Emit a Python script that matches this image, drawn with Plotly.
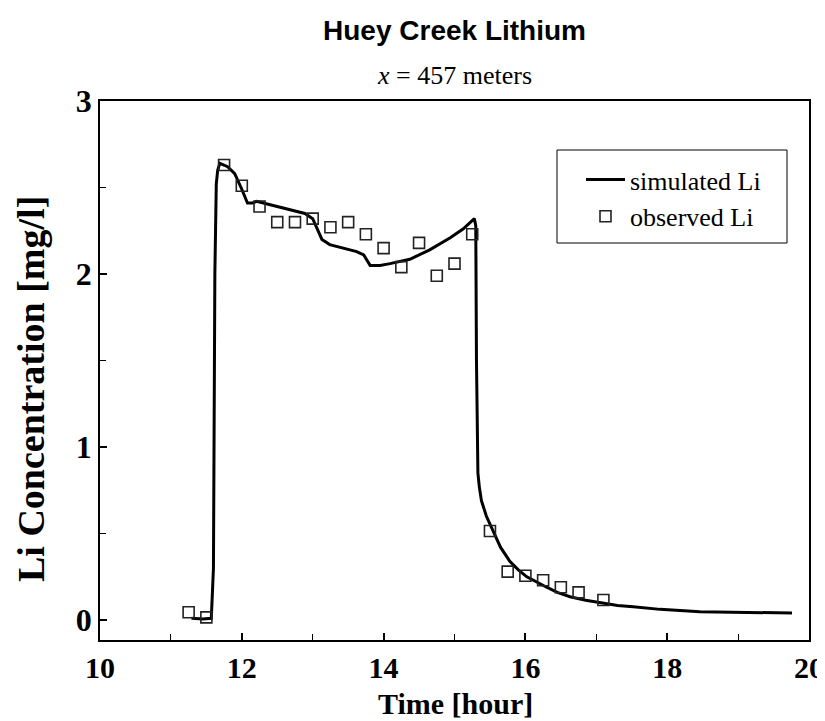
import plotly.graph_objects as go

# Simulated Li (model curve)
sim_time = [11.29, 11.45, 11.57, 11.60, 11.62, 11.64, 11.66, 11.69, 11.80, 11.90, 12.00,
            12.08, 12.15, 12.21, 12.40, 12.58, 12.89, 13.00, 13.13, 13.24, 13.62, 13.72,
            13.81, 13.95, 14.09, 14.37, 14.65, 14.94, 15.12, 15.28, 15.30, 15.31, 15.33,
            15.35, 15.38, 15.45, 15.55, 15.65, 15.78, 15.90, 16.02, 16.15, 16.30, 16.45,
            16.63, 16.85, 17.05, 17.30, 17.52, 17.90, 18.46, 18.93, 19.40, 19.76]
sim_li = [0.01, 0.006, 0.01, 0.30, 2.00, 2.52, 2.60, 2.64, 2.62, 2.58, 2.49,
          2.41, 2.41, 2.42, 2.40, 2.38, 2.35, 2.32, 2.20, 2.17, 2.13, 2.11,
          2.05, 2.05, 2.06, 2.085, 2.14, 2.21, 2.26, 2.32, 2.28, 1.50, 0.85,
          0.77, 0.69, 0.60, 0.51, 0.42, 0.34, 0.29, 0.25, 0.22, 0.19, 0.16,
          0.135, 0.115, 0.10, 0.085, 0.077, 0.062, 0.048, 0.044, 0.042, 0.041]

# Observed Li (field samples)
obs_time = [11.25, 11.50, 11.75, 12.00, 12.25, 12.50, 12.75, 13.00, 13.25, 13.50,
            13.75, 14.00, 14.25, 14.50, 14.75, 15.00, 15.25, 15.50, 15.75, 16.00,
            16.25, 16.50, 16.75, 17.10]
obs_li = [0.045, 0.016, 2.63, 2.51, 2.39, 2.30, 2.30, 2.32, 2.27, 2.30,
          2.23, 2.15, 2.04, 2.18, 1.99, 2.06, 2.23, 0.515, 0.28, 0.256,
          0.23, 0.19, 0.16, 0.116]

x_ticks = [10, 12, 14, 16, 18, 20]
y_ticks = [0, 1, 2, 3]

SERIF = "Liberation Serif, Times New Roman, serif"
SANS = "Liberation Sans, Arial, sans-serif"

OFF = 8  # page body margin offset
W, H = 825 - OFF, 721 - OFF
L, R, T, B = 100 - OFF, 16, 101 - OFF, 81
PW, PH = W - L - R, H - T - B


def px_x(px):
    return (px - OFF - L) / PW


def px_y(py):
    return (H - B - (py - OFF)) / PH


fig = go.Figure()
fig.add_trace(go.Scatter(x=sim_time, y=sim_li, mode="lines", name="simulated Li",
                         line=dict(color="black", width=3)))
fig.add_trace(go.Scatter(x=obs_time, y=obs_li, mode="markers", name="observed Li",
                         marker=dict(symbol="square-open", size=11, color="#222",
                                     line=dict(width=1.6, color="#222"))))

fig.update_layout(
    width=W, height=H,
    margin=dict(l=L, r=R, t=T, b=B),
    paper_bgcolor="white", plot_bgcolor="white",
    showlegend=True,
    legend=dict(x=px_x(581), y=px_y(156), xanchor="left", yanchor="top",
                borderwidth=0, bgcolor="rgba(0,0,0,0)", itemwidth=39,
                font=dict(family=SERIF, size=26, color="black"),
                tracegroupgap=0),
    title=dict(text="Huey Creek Lithium", x=0.5, xref="paper", xanchor="center",
               y=1 - (30 - OFF) / H, yanchor="middle",
               font=dict(family=SANS, size=28, color="black", weight="bold")),
    font=dict(family=SERIF, color="black"),
)
fig.add_shape(type="rect", xref="paper", yref="paper",
              x0=px_x(557), x1=px_x(787), y0=px_y(243), y1=px_y(150),
              line=dict(color="black", width=1))
fig.add_annotation(text="<i>x</i> = 457 meters", xref="paper", yref="paper",
                   x=0.5, y=px_y(75), yanchor="middle", showarrow=False,
                   font=dict(family=SERIF, size=26, color="black"))
fig.add_annotation(text="Li Concentration [mg/l]", xref="paper", yref="paper",
                   x=px_x(31), y=px_y(389), xanchor="center", yanchor="middle",
                   textangle=-90, showarrow=False,
                   font=dict(family=SERIF, size=38, color="black", weight="bold"))
fig.add_annotation(text="Time [hour]", xref="paper", yref="paper",
                   x=px_x(455), y=px_y(703), xanchor="center", yanchor="middle",
                   showarrow=False,
                   font=dict(family=SERIF, size=30, color="black", weight="bold"))

fig.update_xaxes(range=[10, 20], tickvals=x_ticks, ticks="inside", ticklen=7, tickwidth=1.5,
                 tickcolor="black", showline=True, linecolor="black", linewidth=1.5, mirror=True,
                 showgrid=False, zeroline=False, automargin=False,
                 ticklabeloverflow="allow",
                 minor=dict(dtick=1, tick0=10, ticks="inside", ticklen=6, tickwidth=1, tickcolor="black"),
                 tickfont=dict(family=SERIF, size=30, color="black", weight="bold"))
fig.update_yaxes(range=[-0.115, 3], tickvals=y_ticks, ticks="inside", ticklen=7, tickwidth=1.5,
                 tickcolor="black", showline=True, linecolor="black", linewidth=1.5, mirror=True,
                 showgrid=False, zeroline=False, automargin=False,
                 ticklabeloverflow="allow",
                 minor=dict(dtick=0.5, tick0=0, ticks="inside", ticklen=6, tickwidth=1, tickcolor="black"),
                 tickfont=dict(family=SERIF, size=32, color="black", weight="bold"))

fig.write_html("out.html")
